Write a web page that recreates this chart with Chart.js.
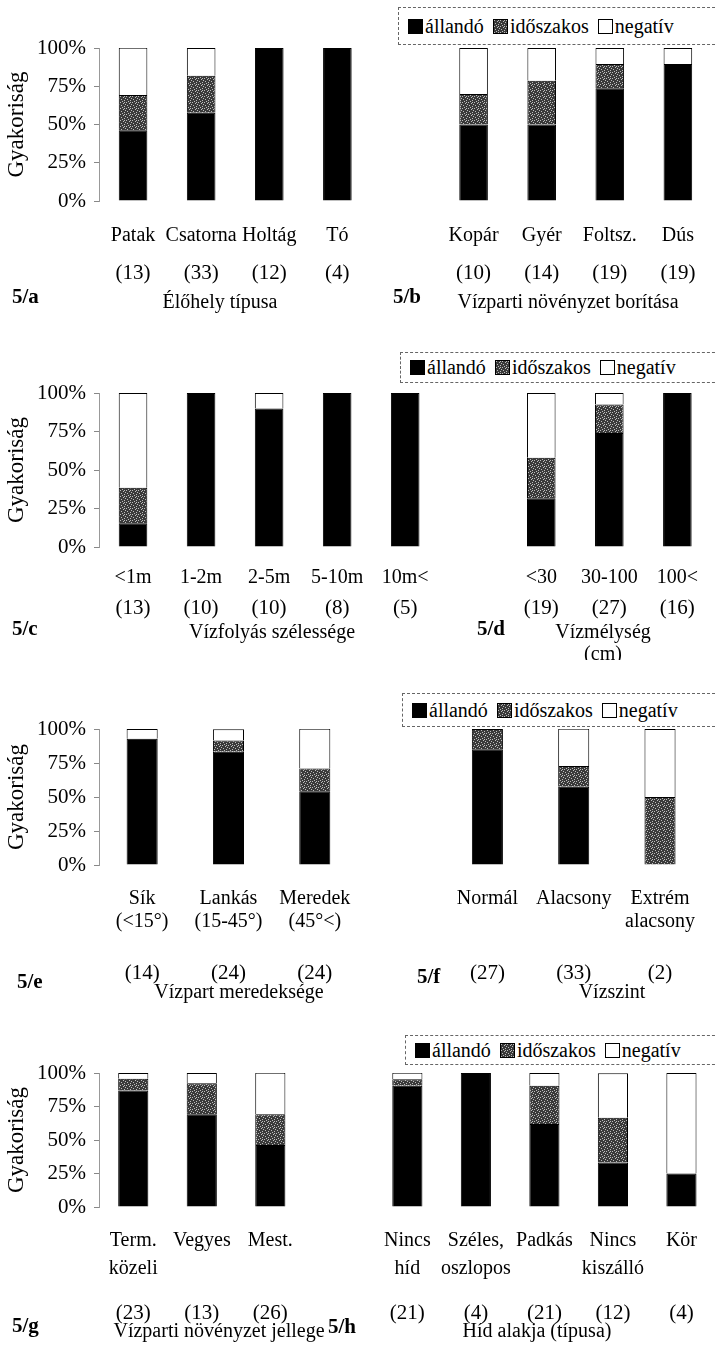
<!DOCTYPE html>
<html>
<head>
<meta charset="utf-8">
<script src="https://cdn.jsdelivr.net/npm/chart.js@4.4.0/dist/chart.umd.min.js"></script>
<style>
  body { margin: 0; background: #fff; font-family: "Liberation Serif", "Times New Roman", serif; }
  #page { position: relative; width: 717px; height: 1353px; overflow: hidden; }
  .row { position: absolute; left: 0; width: 717px; }
  .legend {
    position: absolute; right: -3px; background: #fff; border: 1px dashed #666;
    display: flex; align-items: center; font-size: 20px; color: #000; padding-left: 9px; z-index: 2;
  }
  .legend .item { display: flex; align-items: center; margin-right: 9px; white-space: nowrap; }
  .legend .sw { display: inline-block; width: 15px; height: 15px; border: 1px solid #000; margin-right: 2px; box-sizing: border-box; }
</style>
</head>
<body>
<div id="page"></div>
<script>
// series names
const seriesLabels = ['állandó', 'időszakos', 'negatív'];

// 5/a Élőhely típusa
const catA = ['Patak', 'Csatorna', 'Holtág', 'Tó'];
const nA = [13, 33, 12, 4];
const allandoA = [46.2, 57.6, 100, 100];
const idoszakosA = [23.1, 24.2, 0, 0];
const negativA = [30.8, 18.2, 0, 0];

// 5/b Vízparti növényzet borítása
const catB = ['Kopár', 'Gyér', 'Foltsz.', 'Dús'];
const nB = [10, 14, 19, 19];
const allandoB = [50, 50, 73.7, 89.5];
const idoszakosB = [20, 28.6, 15.8, 0];
const negativB = [30, 21.4, 10.5, 10.5];

// 5/c Vízfolyás szélessége
const catC = ['<1m', '1-2m', '2-5m', '5-10m', '10m<'];
const nC = [13, 10, 10, 8, 5];
const allandoC = [15.4, 100, 90, 100, 100];
const idoszakosC = [23.1, 0, 0, 0, 0];
const negativC = [61.5, 0, 10, 0, 0];

// 5/d Vízmélység (cm)
const catD = ['<30', '30-100', '100<'];
const nD = [19, 27, 16];
const allandoD = [31.6, 74.1, 100];
const idoszakosD = [26.3, 18.5, 0];
const negativD = [42.1, 7.4, 0];

// 5/e Vízpart meredeksége
const catE = [['Sík', '(<15°)'], ['Lankás', '(15-45°)'], ['Meredek', '(45°<)']];
const nE = [14, 24, 24];
const allandoE = [92.9, 83.3, 54.2];
const idoszakosE = [0, 8.3, 16.7];
const negativE = [7.1, 8.3, 29.2];

// 5/f Vízszint
const catF = ['Normál', 'Alacsony', ['Extrém', 'alacsony']];
const nF = [27, 33, 2];
const allandoF = [85.2, 57.6, 0];
const idoszakosF = [14.8, 15.2, 50];
const negativF = [0, 27.3, 50];

// 5/g Vízparti növényzet jellege
const catG = [['Term.', 'közeli'], 'Vegyes', 'Mest.'];
const nG = [23, 13, 26];
const allandoG = [87, 69.2, 46.2];
const idoszakosG = [8.7, 23.1, 23.1];
const negativG = [4.3, 7.7, 30.8];

// 5/h Híd alakja (típusa)
const catH = [['Nincs', 'híd'], ['Széles,', 'oszlopos'], 'Padkás', ['Nincs', 'kiszálló'], 'Kör'];
const nH = [21, 4, 21, 12, 4];
const allandoH = [90.5, 100, 61.9, 33.3, 25];
const idoszakosH = [4.8, 0, 28.6, 33.3, 0];
const negativH = [4.8, 0, 9.5, 33.3, 75];

const yTicks = [0, 25, 50, 75, 100];

const FONT = '"Liberation Serif", "Times New Roman", serif';
Chart.defaults.font.family = FONT;
Chart.defaults.color = '#000';

// speckled grey fill for "időszakos"
function speckleTile() {
  const c = document.createElement('canvas');
  c.width = 6; c.height = 6;
  const g = c.getContext('2d');
  g.fillStyle = '#3a3a3a';
  g.fillRect(0, 0, 6, 6);
  g.fillStyle = '#bdbdbd';
  [[0, 0], [3, 1], [1, 3], [4, 4], [2, 5], [5, 2], [4, 0]].forEach(([x, y]) => g.fillRect(x, y, 1, 1));
  return c;
}
const tile = speckleTile();

// counts, group titles and panel names under each row
const rowText = {
  id: 'rowText',
  afterDraw(chart, args, o) {
    const ctx = chart.ctx;
    const xs = chart.scales.x;
    ctx.save();
    ctx.fillStyle = '#000';
    ctx.textAlign = 'center';
    ctx.textBaseline = 'middle';
    ctx.font = '21px ' + FONT;
    o.counts.forEach((c, i) => {
      if (c !== null) ctx.fillText('(' + c + ')', xs.getPixelForValue(i), chart.chartArea.bottom + o.countOff);
    });
    ctx.font = '20px ' + FONT;
    o.titles.forEach(t => t.text.forEach((line, k) => ctx.fillText(line, t.x, t.y + k * 22)));
    ctx.textAlign = 'left';
    ctx.font = 'bold 21px ' + FONT;
    o.panels.forEach(p => ctx.fillText(p.text, p.x, p.y));
    ctx.restore();
  }
};

const page = document.getElementById('page');

function makeRow(L, left, right) {
  const div = document.createElement('div');
  div.className = 'row';
  div.style.top = L.top + 'px';
  div.style.height = L.height + 'px';
  const canvas = document.createElement('canvas');
  div.appendChild(canvas);
  page.appendChild(div);

  // legend box
  const lg = document.createElement('div');
  lg.className = 'legend';
  lg.style.left = L.legend.left + 'px';
  lg.style.top = L.legend.top + 'px';
  lg.style.height = L.legend.height + 'px';
  const fills = ['#000', 'url(' + tile.toDataURL() + ')', '#fff'];
  seriesLabels.forEach((s, i) => {
    const it = document.createElement('span');
    it.className = 'item';
    const sw = document.createElement('span');
    sw.className = 'sw';
    sw.style.background = fills[i];
    it.appendChild(sw);
    it.appendChild(document.createTextNode(s));
    lg.appendChild(it);
  });
  page.appendChild(lg);

  const pattern = canvas.getContext('2d').createPattern(tile, 'repeat');
  const labels = [...left[0], '', ...right[0]];
  const counts = [...left[1], null, ...right[1]];
  const series = [2, 3, 4].map(k => [...left[k], null, ...right[k]]);
  const colors = ['#000', pattern, '#fff'];

  new Chart(canvas, {
    type: 'bar',
    data: {
      labels: labels,
      datasets: series.map((d, i) => ({
        label: seriesLabels[i],
        data: d,
        backgroundColor: colors[i],
        borderColor: '#000',
        borderWidth: 1,
        categoryPercentage: 1,
        barPercentage: L.barPct
      }))
    },
    options: {
      responsive: true,
      maintainAspectRatio: false,
      animation: false,
      layout: { padding: { top: L.plotTop, left: 0, right: 0, bottom: 0 } },
      plugins: {
        legend: { display: false },
        tooltip: { enabled: false },
        rowText: { counts: counts, countOff: L.countOff, titles: L.titles, panels: L.panels }
      },
      scales: {
        x: {
          stacked: true,
          grid: { display: false, drawTicks: false },
          border: { display: false },
          ticks: {
            autoSkip: false, maxRotation: 0,
            padding: L.tickPad,
            font: { size: 20, lineHeight: L.lineH }
          },
          afterFit: s => { s.height = L.height - L.plotBottom; }
        },
        y: {
          stacked: true,
          min: 0, max: 100,
          afterBuildTicks: s => { s.ticks = yTicks.map(v => ({ value: v })); },
          ticks: { callback: v => v + '%', font: { size: 21 }, padding: 8 },
          grid: { drawOnChartArea: false, tickLength: 5, color: '#888' },
          border: { color: '#999', dash: [3, 2] },
          title: { display: true, text: 'Gyakoriság', font: { size: 23 }, padding: { top: 3, bottom: 0 } },
          afterFit: s => { s.width = 99; }
        }
      }
    },
    plugins: [rowText]
  });
}

makeRow({
  top: 0, height: 335, plotTop: 48, plotBottom: 201, barPct: 0.42, tickPad: 23, lineH: 1.2, countOff: 72,
  legend: { left: 398, top: 7, height: 36 },
  titles: [{ text: ['Élőhely típusa'], x: 220, y: 303 }, { text: ['Vízparti növényzet borítása'], x: 568, y: 303 }],
  panels: [{ text: '5/a', x: 12, y: 298 }, { text: '5/b', x: 393, y: 298 }]
}, [catA, nA, allandoA, idoszakosA, negativA], [catB, nB, allandoB, idoszakosB, negativB]);

makeRow({
  top: 340, height: 320, plotTop: 53, plotBottom: 207, barPct: 0.42, tickPad: 19, lineH: 1.2, countOff: 61,
  legend: { left: 400, top: 352, height: 29 },
  titles: [{ text: ['Vízfolyás szélessége'], x: 272, y: 293 }, { text: ['Vízmélység', '(cm)'], x: 603, y: 293 }],
  panels: [{ text: '5/c', x: 12, y: 290 }, { text: '5/d', x: 477, y: 290 }]
}, [catC, nC, allandoC, idoszakosC, negativC], [catD, nD, allandoD, idoszakosD, negativD]);

makeRow({
  top: 685, height: 330, plotTop: 44, plotBottom: 180, barPct: 0.36, tickPad: 22, lineH: 1.15, countOff: 108,
  legend: { left: 402, top: 693, height: 32 },
  titles: [{ text: ['Vízpart meredeksége'], x: 239, y: 308 }, { text: ['Vízszint'], x: 612, y: 308 }],
  panels: [{ text: '5/e', x: 17, y: 298 }, { text: '5/f', x: 417, y: 293 }]
}, [catE, nE, allandoE, idoszakosE, negativE], [catF, nF, allandoF, idoszakosF, negativF]);

makeRow({
  top: 1025, height: 328, plotTop: 48, plotBottom: 182, barPct: 0.44, tickPad: 20, lineH: 1.4, countOff: 106,
  legend: { left: 405, top: 1035, height: 28 },
  titles: [{ text: ['Vízparti növényzet jellege'], x: 219, y: 307 }, { text: ['Híd alakja (típusa)'], x: 537, y: 307 }],
  panels: [{ text: '5/g', x: 12, y: 302 }, { text: '5/h', x: 328, y: 303 }]
}, [catG, nG, allandoG, idoszakosG, negativG], [catH, nH, allandoH, idoszakosH, negativH]);
</script>
</body>
</html>
